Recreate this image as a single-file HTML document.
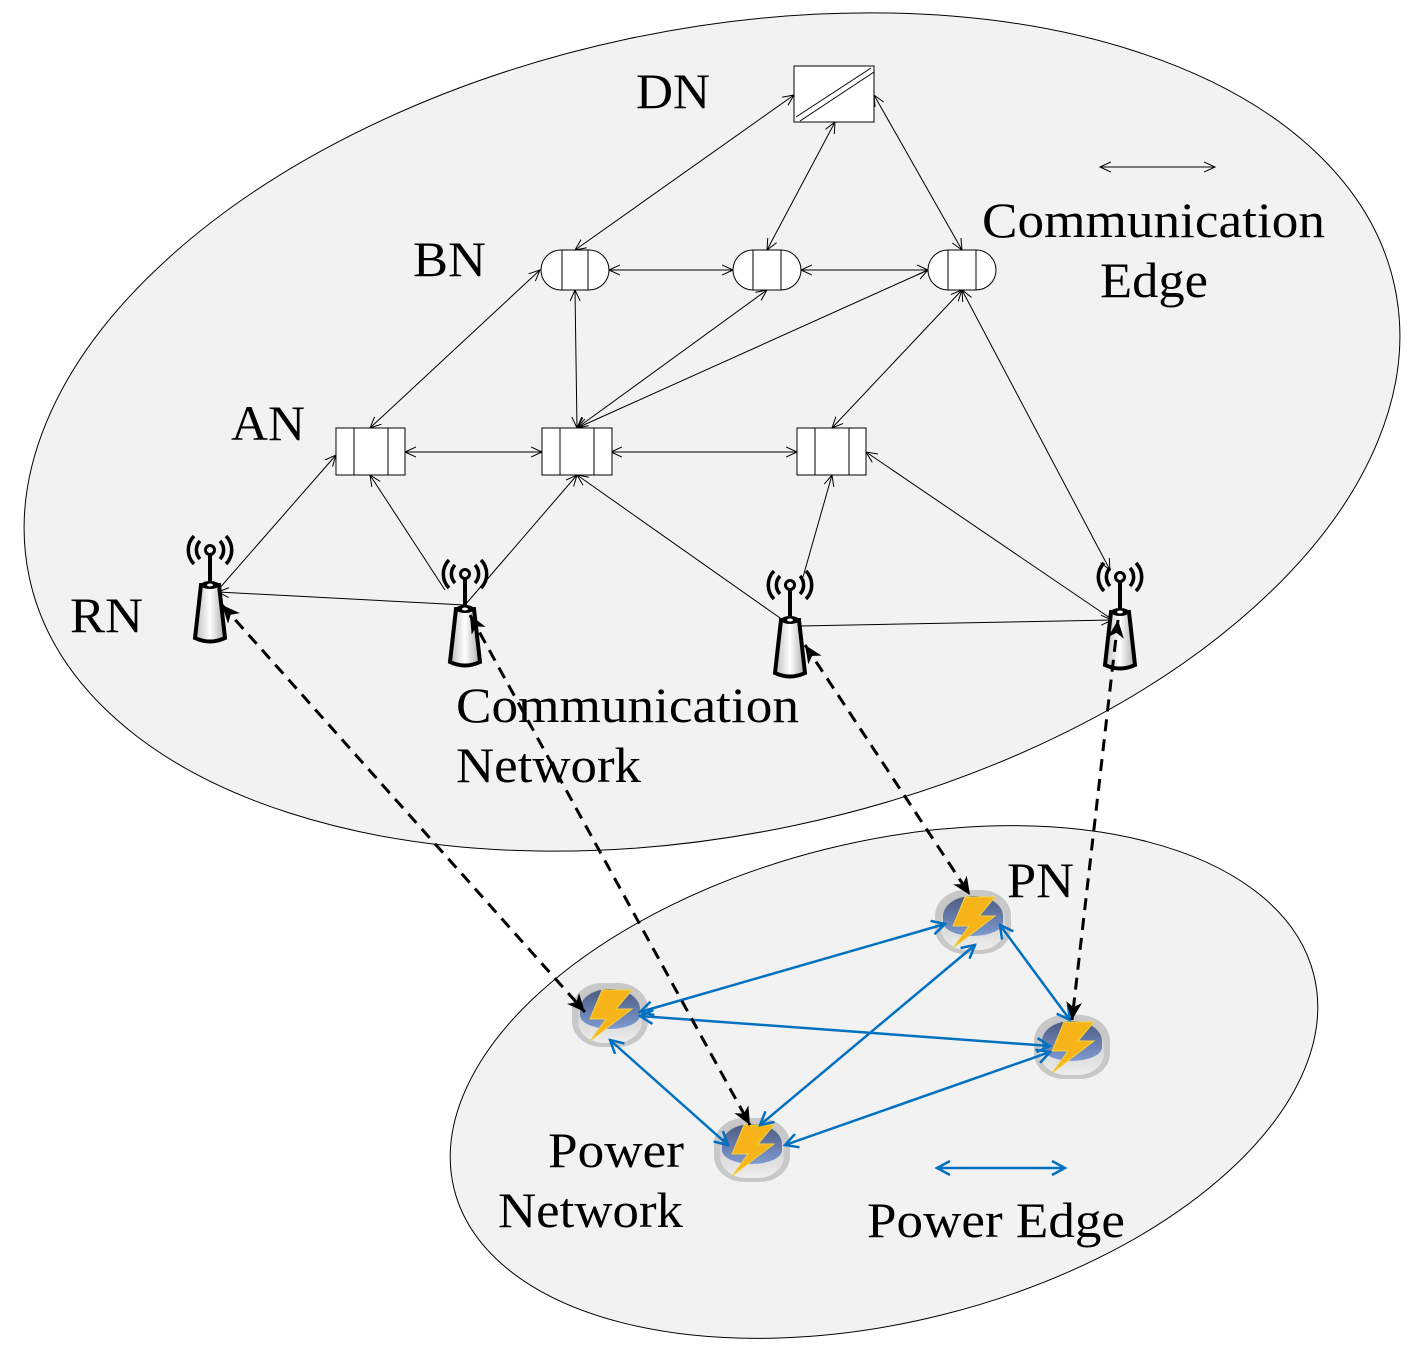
<!DOCTYPE html>
<html><head><meta charset="utf-8"><style>
html,body{margin:0;padding:0;background:#fff;overflow:hidden;width:1425px;height:1347px}
svg{display:block}
text{font-family:"Liberation Serif",serif;font-size:50px;fill:#000}
</style></head><body>
<svg width="1425" height="1347" viewBox="0 0 1425 1347" xmlns="http://www.w3.org/2000/svg">
<defs>
<marker id="oa" viewBox="0 0 12 12" refX="11" refY="6" markerWidth="12" markerHeight="12" markerUnits="userSpaceOnUse" orient="auto-start-reverse">
<path d="M0,1 L11,6 L0,11" fill="none" stroke="#000" stroke-width="1"/></marker>
<marker id="fa" viewBox="0 0 20 20" refX="18" refY="10" markerWidth="20" markerHeight="20" markerUnits="userSpaceOnUse" orient="auto-start-reverse">
<path d="M0,2 L18,10 L0,18 L5,10Z" fill="#000"/></marker>
<marker id="ba" viewBox="0 0 16 16" refX="14" refY="8" markerWidth="16" markerHeight="16" markerUnits="userSpaceOnUse" orient="auto-start-reverse">
<path d="M1,1 L14,8 L1,15" fill="none" stroke="#0070c0" stroke-width="2.5"/></marker>
<linearGradient id="ant" x1="0" x2="1"><stop offset="0" stop-color="#bbb"/><stop offset="0.5" stop-color="#fff"/><stop offset="1" stop-color="#aaa"/></linearGradient>
<linearGradient id="pt" x1="0" y1="0" x2="0" y2="1"><stop offset="0" stop-color="#4a5a80"/><stop offset="1" stop-color="#7f9ad0"/></linearGradient>
<linearGradient id="pb" x1="0" y1="0" x2="0" y2="1"><stop offset="0" stop-color="#bbb"/><stop offset="1" stop-color="#eee"/></linearGradient>
<g id="antenna">
<path d="M-10,-52 A13,13 0 0 0 -10,-34 M10,-52 A13,13 0 0 1 10,-34 M-16,-57 A20,20 0 0 0 -16,-29 M16,-57 A20,20 0 0 1 16,-29" fill="none" stroke="#000" stroke-width="3.5"/>
<circle cx="0" cy="-43" r="4.5" fill="none" stroke="#000" stroke-width="3"/>
<line x1="0" y1="-39" x2="0" y2="-12" stroke="#000" stroke-width="4"/>
<path d="M-9,-8 L9,-8 L15,45 Q0,52 -15,45Z" fill="url(#ant)" stroke="#000" stroke-width="4"/>
<ellipse cx="0" cy="-8" rx="9" ry="4" fill="#000"/><ellipse cx="0" cy="-8" rx="3" ry="1.5" fill="#fff"/>
</g>
<g id="pn">
<rect x="-38" y="-32" width="76" height="64" rx="30" ry="26" fill="#c8c8c8"/>
<rect x="-32" y="-26" width="64" height="54" rx="26" ry="22" fill="url(#pb)"/>
<path d="M-30,-6 A30,20 0 0 1 30,-6 L30,0 A30,14 0 0 1 -30,0Z" fill="url(#pt)"/>
<path d="M-8,-25 L22,-25 L6,-6 L22,-6 L-20,26 L-4,4 L-20,4Z" fill="#f7b418" stroke="#f2d24a" stroke-width="1"/>
</g>
</defs>
<ellipse cx="712" cy="432" rx="698" ry="402" transform="rotate(-12 712 432)" fill="#f2f2f2" stroke="#000" stroke-width="1"/>
<ellipse cx="884" cy="1082" rx="443" ry="240" transform="rotate(-14 884 1082)" fill="#f2f2f2" stroke="#000" stroke-width="1"/>

<g stroke="#000" stroke-width="1" fill="none" marker-start="url(#oa)" marker-end="url(#oa)">
<line x1="794" y1="95" x2="575" y2="250"/>
<line x1="835" y1="122" x2="767" y2="250"/>
<line x1="874" y1="95" x2="962" y2="250"/>
<line x1="609" y1="270" x2="733" y2="270"/>
<line x1="801" y1="270" x2="928" y2="270"/>
<line x1="575" y1="290" x2="577" y2="428"/>
<line x1="540" y1="270" x2="370" y2="428"/>
<line x1="767" y1="290" x2="577" y2="428"/>
<line x1="928" y1="270" x2="577" y2="428"/>
<line x1="962" y1="290" x2="832" y2="428"/>
<line x1="962" y1="290" x2="1110" y2="570"/>
<line x1="405" y1="452" x2="542" y2="452"/>
<line x1="611" y1="452" x2="797" y2="452"/>
<line x1="1215" y1="167" x2="1100" y2="167"/>
</g>
<g stroke="#000" stroke-width="1" fill="none" marker-end="url(#oa)">
<line x1="218" y1="590" x2="336" y2="455"/>
<line x1="445" y1="590" x2="370" y2="475"/>
<line x1="465" y1="605" x2="577" y2="475"/>
<line x1="790" y1="625" x2="577" y2="475"/>
<line x1="803" y1="577" x2="832" y2="475"/>
<line x1="1110" y1="618" x2="866" y2="452"/>
<line x1="465" y1="605" x2="218" y2="592"/>
<line x1="800" y1="626" x2="1112" y2="620"/>
</g>

<rect x="794" y="66" width="80" height="56" fill="#fff" stroke="#000"/>
<line x1="796" y1="117" x2="871" y2="68" stroke="#000"/><line x1="800" y1="121" x2="874" y2="72" stroke="#000"/>

<g fill="#fff" stroke="#000" stroke-width="1">
<rect x="541" y="250" width="68" height="40" rx="20"/><line x1="562" y1="250" x2="562" y2="290"/><line x1="588" y1="250" x2="588" y2="290"/>
<rect x="733" y="250" width="68" height="40" rx="20"/><line x1="753" y1="250" x2="753" y2="290"/><line x1="781" y1="250" x2="781" y2="290"/>
<rect x="928" y="250" width="68" height="40" rx="20"/><line x1="948" y1="250" x2="948" y2="290"/><line x1="976" y1="250" x2="976" y2="290"/>
<rect x="336" y="428" width="69" height="47"/><line x1="354" y1="428" x2="354" y2="475"/><line x1="388" y1="428" x2="388" y2="475"/>
<rect x="542" y="428" width="70" height="47"/><line x1="560" y1="428" x2="560" y2="475"/><line x1="594" y1="428" x2="594" y2="475"/>
<rect x="797" y="428" width="69" height="47"/><line x1="815" y1="428" x2="815" y2="475"/><line x1="849" y1="428" x2="849" y2="475"/>
</g>

<use href="#antenna" x="210" y="593"/>
<use href="#antenna" x="465" y="617"/>
<use href="#antenna" x="790" y="628"/>
<use href="#antenna" x="1120" y="620"/>

<use href="#pn" x="610" y="1015"/>
<use href="#pn" x="752" y="1150"/>
<use href="#pn" x="973" y="922"/>
<use href="#pn" x="1072" y="1047"/>

<g stroke="#0070c0" stroke-width="2.5" fill="none" marker-start="url(#ba)" marker-end="url(#ba)">
<line x1="640" y1="1012" x2="945" y2="924"/>
<line x1="640" y1="1016" x2="1050" y2="1046"/>
<line x1="610" y1="1040" x2="728" y2="1145"/>
<line x1="760" y1="1125" x2="975" y2="945"/>
<line x1="785" y1="1145" x2="1050" y2="1052"/>
<line x1="1000" y1="925" x2="1070" y2="1020"/>
<line x1="937" y1="1168" x2="1065" y2="1168"/>
</g>

<g stroke="#000" stroke-width="3" fill="none" stroke-dasharray="12,8" marker-start="url(#fa)" marker-end="url(#fa)">
<line x1="222" y1="605" x2="585" y2="1012"/>
<line x1="470" y1="615" x2="750" y2="1125"/>
<line x1="805" y1="645" x2="970" y2="895"/>
<line x1="1118" y1="620" x2="1072" y2="1020"/>
</g>

<text x="636" y="108" textLength="74" lengthAdjust="spacingAndGlyphs">DN</text>
<text x="413" y="276" textLength="73" lengthAdjust="spacingAndGlyphs">BN</text>
<text x="231" y="440" textLength="74" lengthAdjust="spacingAndGlyphs">AN</text>
<text x="70" y="632" textLength="73" lengthAdjust="spacingAndGlyphs">RN</text>
<text x="982" y="237" textLength="343" lengthAdjust="spacingAndGlyphs">Communication</text>
<text x="1100" y="297" textLength="108" lengthAdjust="spacingAndGlyphs">Edge</text>
<text x="456" y="722" textLength="343" lengthAdjust="spacingAndGlyphs">Communication</text>
<text x="456" y="782" textLength="185" lengthAdjust="spacingAndGlyphs">Network</text>
<text x="1007" y="897" textLength="67" lengthAdjust="spacingAndGlyphs">PN</text>
<text x="548" y="1167" textLength="136" lengthAdjust="spacingAndGlyphs">Power</text>
<text x="498" y="1227" textLength="185" lengthAdjust="spacingAndGlyphs">Network</text>
<text x="867" y="1237" textLength="258" lengthAdjust="spacingAndGlyphs">Power Edge</text>
</svg>
</body></html>
